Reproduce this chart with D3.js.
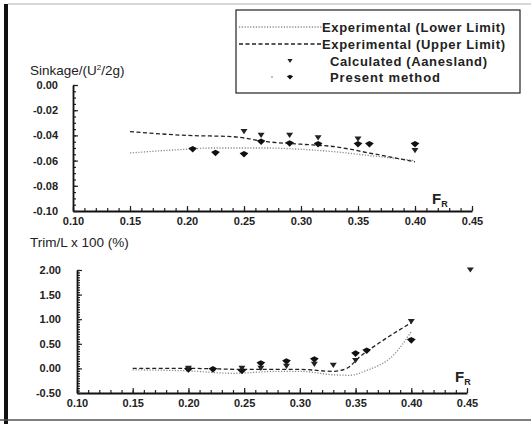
<!DOCTYPE html>
<html><head><meta charset="utf-8">
<script src="https://cdn.jsdelivr.net/npm/d3@7"></script>
<style>
body{margin:0;background:#fff;}
svg{display:block;font-family:"Liberation Sans",Arial,sans-serif;}
</style></head>
<body><svg id="c" width="531" height="424"></svg>
<script>
// ---------- DATA ----------
const xTicks = [0.10,0.15,0.20,0.25,0.30,0.35,0.40,0.45];
const sinkTicks = [0.00,-0.02,-0.04,-0.06,-0.08,-0.10];
const trimTicks = [2.00,1.50,1.00,0.50,0.00,-0.50];

// Sinkage
const sinkLowerX = [0.15,0.18,0.20,0.22,0.27,0.30,0.33,0.36,0.40];
const sinkLowerY = [-0.054,-0.052,-0.051,-0.050,-0.050,-0.051,-0.053,-0.056,-0.060];
const sinkUpperX = [0.15,0.20,0.24,0.27,0.30,0.33,0.36,0.40];
const sinkUpperY = [-0.037,-0.040,-0.041,-0.045,-0.047,-0.049,-0.054,-0.061];
const sinkCalcX = [0.25,0.265,0.29,0.315,0.35,0.40];
const sinkCalcY = [-0.037,-0.040,-0.040,-0.042,-0.043,-0.052];
const sinkPresX = [0.205,0.225,0.25,0.265,0.29,0.315,0.35,0.36,0.40];
const sinkPresY = [-0.051,-0.054,-0.055,-0.045,-0.0465,-0.047,-0.047,-0.047,-0.047];

// Trim
const trimLowerX = [0.15,0.20,0.24,0.28,0.30,0.33,0.345,0.36,0.384,0.40];
const trimLowerY = [-0.03,-0.05,-0.10,-0.06,-0.06,-0.13,-0.14,-0.04,0.27,0.75];
const trimUpperX = [0.15,0.20,0.25,0.30,0.33,0.342,0.354,0.372,0.40];
const trimUpperY = [0.00,0.00,-0.02,-0.02,-0.06,0.00,0.24,0.53,0.93];
const trimCalcX = [0.20,0.248,0.265,0.288,0.313,0.33,0.35,0.40,0.453];
const trimCalcY = [0.00,0.00,0.00,0.04,0.08,0.06,0.16,0.95,2.00];
const trimPresX = [0.20,0.222,0.248,0.265,0.288,0.313,0.35,0.36,0.40];
const trimPresY = [-0.02,-0.02,-0.05,0.10,0.14,0.18,0.30,0.36,0.57];

const legendLabels = ["Experimental (Lower Limit)","Experimental (Upper Limit)","Calculated (Aanesland)","Present method"];

// ---------- DRAW ----------
const svg = d3.select("#c");
const zip = (xs,ys)=>xs.map((x,i)=>[x,ys[i]]);

// frame artefacts
svg.append("line").attr("x1",8).attr("x2",531).attr("y1",4).attr("y2",4).attr("stroke","#ccc").attr("stroke-width",1.5);
svg.append("line").attr("x1",6).attr("x2",6).attr("y1",4).attr("y2",424).attr("stroke","#111").attr("stroke-width",4);
svg.append("line").attr("x1",0).attr("x2",531).attr("y1",420).attr("y2",420).attr("stroke","#555").attr("stroke-width",1.5);

const triDown = {draw(ctx,size){const w=Math.sqrt(size)*1.1,h=w*0.75;ctx.moveTo(-w/2,-h/2);ctx.lineTo(w/2,-h/2);ctx.lineTo(0,h/2);ctx.closePath();}};
const blob = {draw(ctx,size){const w=Math.sqrt(size)*1.35,h=w*0.75;ctx.moveTo(-w/2,-h*0.15);ctx.lineTo(0,-h/2);ctx.lineTo(w/2,-h*0.15);ctx.lineTo(0,h/2);ctx.closePath();}};

function panel(o){
  const g = svg.append("g");
  const x = d3.scaleLinear().domain([0.10,0.45]).range([o.x0,o.x1]);
  const y = d3.scaleLinear().domain(o.yDomain).range([o.yBottom,o.yTop]);
  const fmt = d=>d.toFixed(2);
  // minor ticks
  g.append("g").attr("transform",`translate(0,${o.yBottom})`)
    .call(d3.axisBottom(x).tickValues(d3.range(10,46,1).map(v=>v/100)).tickSizeInner(-3).tickSizeOuter(0).tickFormat(""))
    .call(s=>s.select(".domain").remove());
  g.append("g").attr("transform",`translate(${o.x0},0)`)
    .call(d3.axisLeft(y).tickValues(o.yMinor).tickSizeInner(-3).tickSizeOuter(0).tickFormat(""))
    .call(s=>s.select(".domain").remove());
  // major axes
  g.append("g").attr("transform",`translate(0,${o.yBottom})`)
    .call(d3.axisBottom(x).tickValues(xTicks).tickSizeInner(-5).tickSizeOuter(0).tickPadding(6).tickFormat(fmt));
  g.append("g").attr("transform",`translate(${o.x0},0)`)
    .call(d3.axisLeft(y).tickValues(o.yTicks).tickSizeInner(-5).tickSizeOuter(0).tickPadding(o.yPad).tickFormat(fmt));
  g.selectAll(".domain").attr("stroke","#111").attr("stroke-width",1.8);
  g.selectAll(".tick line").attr("stroke","#222").attr("stroke-width",1.2);
  g.selectAll(".tick text").attr("font-size",11).attr("font-weight","bold").attr("fill","#222")
    .attr("font-family","'Liberation Sans',Arial,sans-serif");
  // title
  const t = g.append("text").attr("x",30).attr("y",o.titleY).attr("font-size",13.5).attr("fill","#222");
  o.title(t);
  // F_R
  const fr = g.append("text").attr("x",o.frX).attr("y",o.frY).attr("fill","#222").attr("font-weight","bold");
  fr.append("tspan").attr("font-size",15).text("F");
  fr.append("tspan").attr("font-size",9).attr("dy",3).text("R");
  // curves
  const line = d3.line().x(d=>x(d[0])).y(d=>y(d[1])).curve(d3.curveMonotoneX);
  g.append("path").attr("d",line(zip(o.lowX,o.lowY))).attr("fill","none").attr("stroke","#8a8a8a").attr("stroke-width",1.3).attr("stroke-dasharray","1.2,1.6");
  g.append("path").attr("d",line(zip(o.upX,o.upY))).attr("fill","none").attr("stroke","#222").attr("stroke-width",1.3).attr("stroke-dasharray","4,2.5");
  // points
  g.selectAll(".pp").data(zip(o.presX,o.presY)).join("path")
    .attr("transform",d=>`translate(${x(d[0])},${y(d[1])})`)
    .attr("d",d3.symbol().type(blob).size(42)).attr("fill","#111");
  g.selectAll(".cp").data(zip(o.calcX,o.calcY)).join("path")
    .attr("transform",d=>`translate(${x(d[0])},${y(d[1])})`)
    .attr("d",d3.symbol().type(triDown).size(40)).attr("fill","#222");
}

panel({x0:73,x1:472,yTop:85,yBottom:211,yDomain:[-0.10,0.00],yTicks:sinkTicks,
  yMinor:d3.range(0,21,1).map(v=>-v/200),yPad:15,titleY:75,
  title:t=>{t.append("tspan").text("Sinkage/(U");t.append("tspan").attr("font-size",8).attr("dy",-5).text("2");t.append("tspan").attr("dy",5).text("/2g)");},
  frX:432,frY:204,lowX:sinkLowerX,lowY:sinkLowerY,upX:sinkUpperX,upY:sinkUpperY,
  calcX:sinkCalcX,calcY:sinkCalcY,presX:sinkPresX,presY:sinkPresY});

panel({x0:77,x1:467,yTop:270,yBottom:393,yDomain:[-0.50,2.00],yTicks:trimTicks,
  yMinor:d3.range(-10,41,1).map(v=>v/20),yPad:16,titleY:247,
  title:t=>t.text("Trim/L x 100 (%)"),
  frX:455,frY:382,lowX:trimLowerX,lowY:trimLowerY,upX:trimUpperX,upY:trimUpperY,
  calcX:trimCalcX,calcY:trimCalcY,presX:trimPresX,presY:trimPresY});

// legend
const lg = svg.append("g");
lg.append("rect").attr("x",236).attr("y",10).attr("width",284).attr("height",83).attr("fill","#fff").attr("stroke","#222").attr("stroke-width",1.2);
const rowY = [27,44,61,77];
const textW = [183,183,157,110];
lg.append("line").attr("x1",239).attr("x2",322).attr("y1",rowY[0]).attr("y2",rowY[0]).attr("stroke","#8a8a8a").attr("stroke-width",1.5).attr("stroke-dasharray","1.2,1.6");
lg.append("line").attr("x1",239).attr("x2",322).attr("y1",rowY[1]).attr("y2",rowY[1]).attr("stroke","#222").attr("stroke-width",1.3).attr("stroke-dasharray","4,2.5");
lg.append("path").attr("transform",`translate(290,${rowY[2]})`).attr("d",d3.symbol().type(triDown).size(22)).attr("fill","#222");
lg.append("path").attr("transform",`translate(290,${rowY[3]})`).attr("d",d3.symbol().type(blob).size(22)).attr("fill","#111");
lg.append("circle").attr("cx",272).attr("cy",rowY[3]).attr("r",1).attr("fill","#aaa");
lg.selectAll(".lt").data(legendLabels).join("text")
  .attr("x",(d,i)=>i<2?322:330).attr("y",(d,i)=>rowY[i]+4.5)
  .attr("font-size",13).attr("font-weight","bold").attr("fill","#222")
  .attr("textLength",(d,i)=>textW[i]).attr("lengthAdjust","spacing").text(d=>d);
</script></body></html>
